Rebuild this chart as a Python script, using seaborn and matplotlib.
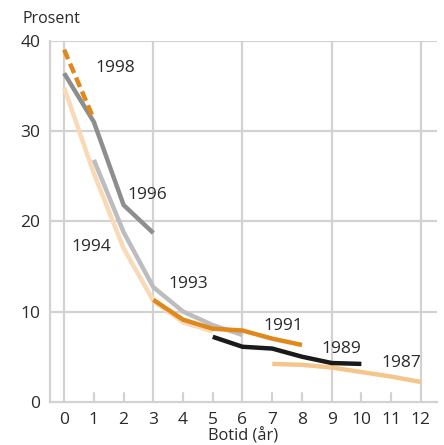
import matplotlib
matplotlib.use("Agg")
import matplotlib.pyplot as plt
import seaborn as sns
import pandas as pd

# share (%) by years of residence, one series per arrival cohort
x_1998 = [0, 1]
y_1998 = [39.0, 31.3]
x_1996 = [0, 1, 2, 3]
y_1996 = [36.4, 31.0, 21.8, 18.7]
x_1994 = [0, 1, 2, 3, 4, 5]
y_1994 = [34.8, 25.3, 17.0, 11.2, 8.8, 7.8]
x_1993 = [1, 2, 3, 4, 5, 6]
y_1993 = [26.8, 18.8, 12.7, 10.0, 8.5, 7.4]
x_1991 = [3, 4, 5, 6, 7, 8]
y_1991 = [11.3, 9.1, 8.1, 7.9, 7.0, 6.3]
x_1989 = [5, 6, 7, 8, 9, 10]
y_1989 = [7.2, 6.1, 5.9, 5.0, 4.3, 4.2]
x_1987 = [7, 8, 9, 10, 11, 12]
y_1987 = [4.2, 4.1, 3.8, 3.3, 2.8, 2.2]

x_ticks = list(range(13))
y_ticks = [0, 10, 20, 30, 40]

sns.set_style("white")
plt.rcParams['font.family'] = ['Open Sans', 'DejaVu Sans']

fig = plt.figure(figsize=(4.44, 4.45), dpi=100)
ax = fig.add_axes([0.113, 0.097, 0.871, 0.8115])

grid_c = "#d2d2d2"
txt_c = "#2a2a2a"
for v in [0, 3, 6, 9, 12]:
    ax.axvline(v, color=grid_c, lw=1.6, zorder=0)
for v in [10, 20, 30, 40]:
    ax.axhline(v, color=grid_c, lw=1.6, zorder=0)
for v in [1, 2, 4, 5, 7, 8, 10, 11]:
    ax.plot([v, v], [0, 1.0], color=grid_c, lw=1.6, zorder=0)

series = [
    (x_1994, y_1994, "#f9d9b6", "-"),
    (x_1993, y_1993, "#bdbdbf", "-"),
    (x_1996, y_1996, "#8e8e8e", "-"),
    (x_1998, y_1998, "#e0881c", (0, (2.3, 1.1))),
    (x_1991, y_1991, "#e0881c", "-"),
    (x_1987, y_1987, "#f5c68c", "-"),
    (x_1989, y_1989, "#1a1a1a", "-"),
]
for xs, ys, c, ls in series:
    df = pd.DataFrame({"x": xs, "y": ys})
    sns.lineplot(data=df, x="x", y="y", ax=ax, color=c, lw=3.2,
                 linestyle=ls, solid_capstyle="butt")

labels = [("1998", 1.71, 37.0), ("1996", 2.8, 22.9), ("1994", 0.93, 17.2),
          ("1993", 4.17, 13.0), ("1991", 7.36, 8.4), ("1989", 9.33, 5.9),
          ("1987", 11.35, 4.3)]
for t, lx, ly in labels:
    ax.text(lx, ly, t, ha="center", va="center", fontsize=12.5, color=txt_c)

ax.set_xlim(-0.47, 12.54)
ax.set_ylim(0, 40)
ax.set_xticks(x_ticks)
ax.set_yticks(y_ticks)
ax.tick_params(axis="x", length=0, labelsize=12.5, colors=txt_c, pad=7)
ax.tick_params(axis="y", length=0, labelsize=12.5, colors=txt_c, pad=7)
for s in ["top", "right"]:
    ax.spines[s].set_visible(False)
for s in ["left", "bottom"]:
    ax.spines[s].set_color(grid_c)
    ax.spines[s].set_linewidth(1.6)
ax.set_xlabel("Botid (år)", fontsize=11.8, color=txt_c, labelpad=0)
ax.set_ylabel("")
fig.text(0.05, 0.958, "Prosent", fontsize=11.5, color=txt_c, va="center")

fig.savefig("out.png", dpi=100)
